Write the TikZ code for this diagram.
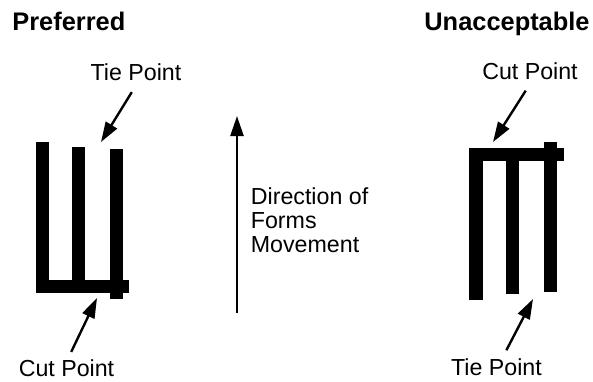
\documentclass[tikz,border=0pt]{standalone}
\usepackage{fontspec}
\setmainfont{Liberation Sans}
\usetikzlibrary{arrows.meta}

\begin{document}
\begin{tikzpicture}[x=0.5pt, y=-0.5pt,
        bar/.style={fill=black},
        lbl/.style={font=\fontsize{11.6}{12}\selectfont, inner sep=2pt},
        title/.style={font=\bfseries\fontsize{12.7}{14}\selectfont, inner sep=0pt, anchor=base west},
        pointer/.style={line width=1.2pt, -{Triangle[length=10pt, width=6.5pt]}}]
        \useasboundingbox (0, 0) rectangle (593, 381);

        % Headings
        \node[title] (pref) at (12, 30) {Preferred};
        \node[title] (unacc) at (424, 30) {Unacceptable};

        % Preferred
        \fill[bar] (36, 142) rectangle (49, 293);
        \fill[bar] (72, 147) rectangle (85, 293);
        \fill[bar] (110, 149) rectangle (123, 299);
        \fill[bar] (36, 280) rectangle (129, 293);

        \node[lbl, anchor=base] (tieA) at (136, 80.7) {Tie Point};
        \coordinate (tieAtip) at (101, 142);
        \draw[pointer, shorten <=4pt] (tieA.south) -- (tieAtip);

        \node[lbl, anchor=base] (cutA) at (66.5, 376.7) {Cut Point};
        \coordinate (cutAtip) at (97, 298);
        \draw[pointer, shorten <=2pt] ([xshift=1.5pt]cutA.north) -- (cutAtip);

        % Direction of Forms Movement
        \coordinate (dirbot) at (237, 313);
        \coordinate (dirtop) at (237, 116);
        \draw[pointer] (dirbot) -- (dirtop);
        \node[lbl, inner sep=0pt, anchor=north west, align=left] (dir) at (250.5, 187.5)
            {Direction of\\Forms\\Movement};

        % Unacceptable
        \fill[bar] (469, 148) rectangle (483, 300);
        \fill[bar] (506, 148) rectangle (519, 294);
        \fill[bar] (544, 142) rectangle (557, 292);
        \fill[bar] (469, 148) rectangle (564, 161);

        \node[lbl, anchor=base] (cutB) at (530, 79.3) {Cut Point};
        \coordinate (cutBtip) at (493, 142);
        \draw[pointer, shorten <=4pt] (cutB.south) -- (cutBtip);

        \node[lbl, anchor=base] (tieB) at (496.5, 375) {Tie Point};
        \coordinate (tieBtip) at (533, 299);
        \draw[pointer, shorten <=2pt] ([xshift=4pt]tieB.north) -- (tieBtip);
    \end{tikzpicture}
\end{document}
